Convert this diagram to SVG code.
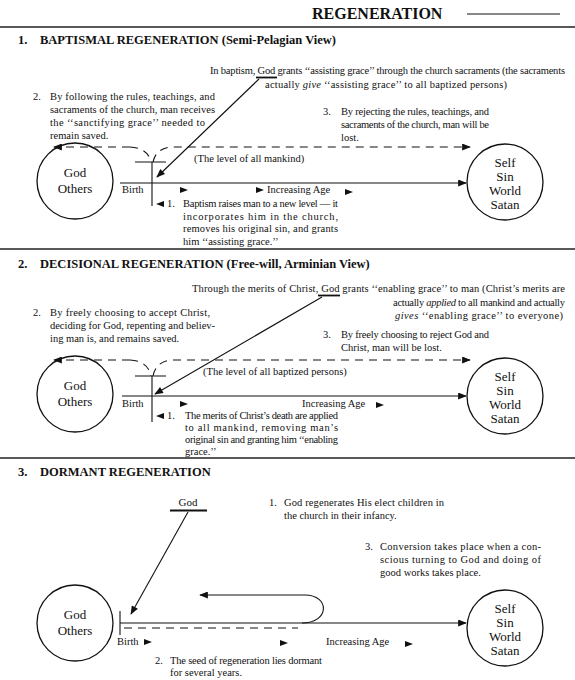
<svg xmlns="http://www.w3.org/2000/svg" width="575" height="680" viewBox="0 0 575 680">
<style>
text{font-family:"Liberation Serif","Times New Roman",serif;fill:#111;}
.b{font-size:10.5px;}
.t{font-size:12.5px;font-weight:bold;}
.h{font-size:16px;font-weight:bold;}
.c{font-size:13px;}
.ln{stroke:#111;stroke-width:1.1;fill:none;}
.ds{stroke:#111;stroke-width:1.1;fill:none;stroke-dasharray:8,6;}
.rule{stroke:#222;stroke-width:1.6;}
.bar{stroke:#111;stroke-width:1.8;}
.circ{fill:#fff;stroke:#111;stroke-width:1.3;}
.tri{fill:#111;}
</style>
<defs>
<marker id="ah" viewBox="0 0 10 8" refX="9" refY="4" markerWidth="10" markerHeight="7" markerUnits="userSpaceOnUse" orient="auto"><path d="M0,0 L10,4 L0,8 Z" fill="#111"/></marker>
<path id="tr" class="tri" d="M0,-3 L8,0 L0,3 Z"/>
<path id="tl" class="tri" d="M8,-3 L0,0 L8,3 Z"/>
</defs>
<rect width="575" height="680" fill="#fff"/>

<g id="header">
<text class="h" x="312" y="19">REGENERATION</text>
<line class="ln" x1="467" y1="14" x2="560" y2="14"/>
<line class="rule" x1="0" y1="27" x2="575" y2="27"/>
<line class="rule" x1="0" y1="249" x2="575" y2="249"/>
<line class="rule" x1="0" y1="458" x2="575" y2="458"/>
</g>

<!-- SECTION 1 -->
<g id="s1-title"><text class="t" x="18" y="44">1.</text><text class="t" x="40" y="44">BAPTISMAL REGENERATION (Semi-Pelagian View)</text></g>
<g id="s1-god">
<text class="b" x="210" y="74" textLength="355">In baptism, God grants ‘‘assisting grace’’ through the church sacraments (the sacraments</text>
<text class="b" x="265" y="88" textLength="242">actually <tspan font-style="italic">give</tspan> ‘‘assisting grace’’ to all baptized persons)</text>
<line class="bar" x1="256" y1="77.5" x2="277" y2="77.5"/>
</g>
<g id="s1-note2">
<text class="b" x="33" y="100">2.</text>
<text class="b" x="50" y="100" textLength="165">By following the rules, teachings, and</text>
<text class="b" x="50" y="113" textLength="165">sacraments of the church, man receives</text>
<text class="b" x="50" y="126" textLength="155">the ‘‘sanctifying grace’’ needed to</text>
<text class="b" x="50" y="139">remain saved.</text>
</g>
<g id="s1-note3">
<text class="b" x="323" y="115">3.</text>
<text class="b" x="341" y="115" textLength="148">By rejecting the rules, teachings, and</text>
<text class="b" x="341" y="128" textLength="148">sacraments of the church, man will be</text>
<text class="b" x="341" y="141">lost.</text>
</g>
<g id="s1-level"><text class="b" x="194" y="162">(The level of all mankind)</text></g>
<g id="s1-godothers"><circle class="circ" cx="75" cy="181" r="38"/><text class="c" x="75" y="177" text-anchor="middle">God</text><text class="c" x="75" y="193" text-anchor="middle">Others</text></g>
<g id="s1-self"><circle class="circ" cx="505" cy="182" r="38"/><text class="c" x="505" y="167" text-anchor="middle">Self</text><text class="c" x="505" y="181" text-anchor="middle">Sin</text><text class="c" x="505" y="195" text-anchor="middle">World</text><text class="c" x="505" y="209" text-anchor="middle">Satan</text></g>
<g id="s1-age">
<text class="b" x="122" y="193">Birth</text>
<use href="#tr" x="180" y="190"/><use href="#tr" x="256" y="190"/>
<text class="b" x="267" y="193">Increasing Age</text>
<use href="#tr" x="345" y="192"/>
</g>
<g id="s1-note1">
<use href="#tl" x="156" y="204"/>
<text class="b" x="167" y="207">1.</text>
<text class="b" x="183" y="207" textLength="155">Baptism raises man to a new level — it</text>
<text class="b" x="183" y="219.5" textLength="155">incorporates him in the church,</text>
<text class="b" x="183" y="232" textLength="155">removes his original sin, and grants</text>
<text class="b" x="183" y="244.5">him ‘‘assisting grace.’’</text>
</g>
<g id="s1-connectors">
<path class="ds" d="M130 147 H54" marker-end="url(#ah)"/>
<path class="ds" d="M130 147 Q148 148 151 162"/>
<path class="ds" d="M153 162 Q156 148 172 147 H470" marker-end="url(#ah)"/>
<path class="ln" d="M135 162 H166 M152 162 V206"/>
<path class="ln" d="M120 183 H466" marker-end="url(#ah)"/>
<path class="ln" d="M259 79 L157 177" marker-end="url(#ah)"/>
</g>

<!-- SECTION 2 -->
<g id="s2-title"><text class="t" x="18" y="268">2.</text><text class="t" x="40" y="268">DECISIONAL REGENERATION (Free-will, Arminian View)</text></g>
<g id="s2-god">
<text class="b" x="192" y="292" textLength="373">Through the merits of Christ, God grants ‘‘enabling grace’’ to man (Christ’s merits are</text>
<text class="b" x="393" y="305.5" textLength="172">actually <tspan font-style="italic">applied</tspan> to all mankind and actually</text>
<text class="b" x="395" y="319" textLength="168"><tspan font-style="italic">gives</tspan> ‘‘enabling grace’’ to everyone)</text>
<line class="bar" x1="318" y1="295.5" x2="340" y2="295.5"/>
</g>
<g id="s2-note2">
<text class="b" x="33" y="316">2.</text>
<text class="b" x="50" y="316" textLength="160">By freely choosing to accept Christ,</text>
<text class="b" x="50" y="329" textLength="165">deciding for God, repenting and believ-</text>
<text class="b" x="50" y="342">ing man is, and remains saved.</text>
</g>
<g id="s2-note3">
<text class="b" x="323" y="338">3.</text>
<text class="b" x="341" y="338" textLength="148">By freely choosing to reject God and</text>
<text class="b" x="341" y="351">Christ, man will be lost.</text>
</g>
<g id="s2-level"><text class="b" x="203" y="375">(The level of all baptized persons)</text></g>
<g id="s2-godothers"><circle class="circ" cx="75" cy="394" r="38"/><text class="c" x="75" y="390" text-anchor="middle">God</text><text class="c" x="75" y="406" text-anchor="middle">Others</text></g>
<g id="s2-self"><circle class="circ" cx="505" cy="396" r="38"/><text class="c" x="505" y="381" text-anchor="middle">Self</text><text class="c" x="505" y="395" text-anchor="middle">Sin</text><text class="c" x="505" y="409" text-anchor="middle">World</text><text class="c" x="505" y="423" text-anchor="middle">Satan</text></g>
<g id="s2-age">
<text class="b" x="122" y="407">Birth</text>
<use href="#tr" x="180" y="404"/>
<text class="b" x="302" y="407">Increasing Age</text>
<use href="#tr" x="376" y="405"/>
</g>
<g id="s2-note1">
<use href="#tl" x="156" y="416"/>
<text class="b" x="167" y="419">1.</text>
<text class="b" x="185" y="419" textLength="153">The merits of Christ’s death are applied</text>
<text class="b" x="185" y="431" textLength="153">to all mankind, removing man’s</text>
<text class="b" x="185" y="443" textLength="153">original sin and granting him ‘‘enabling</text>
<text class="b" x="185" y="455">grace.’’</text>
</g>
<g id="s2-connectors">
<path class="ds" d="M130 360 H54" marker-end="url(#ah)"/>
<path class="ds" d="M130 360 Q148 361 151 376"/>
<path class="ds" d="M153 376 Q156 361 172 360 H470" marker-end="url(#ah)"/>
<path class="ln" d="M135 376 H166 M152 376 V422"/>
<path class="ln" d="M122 396 H466" marker-end="url(#ah)"/>
<path class="ln" d="M322 297 L155 394" marker-end="url(#ah)"/>
</g>

<!-- SECTION 3 -->
<g id="s3-title"><text class="t" x="18" y="476">3.</text><text class="t" x="40" y="476">DORMANT REGENERATION</text></g>
<g id="s3-god">
<text class="b" x="188" y="506" text-anchor="middle" style="font-size:11px">God</text>
<line class="bar" x1="170" y1="510.5" x2="207" y2="510.5"/>
</g>
<g id="s3-note1">
<text class="b" x="269" y="506">1.</text>
<text class="b" x="284" y="506" textLength="160">God regenerates His elect children in</text>
<text class="b" x="284" y="519">the church in their infancy.</text>
</g>
<g id="s3-note3">
<text class="b" x="365" y="550">3.</text>
<text class="b" x="380" y="550" textLength="161">Conversion takes place when a con-</text>
<text class="b" x="380" y="563" textLength="161">scious turning to God and doing of</text>
<text class="b" x="380" y="576">good works takes place.</text>
</g>
<g id="s3-godothers"><circle class="circ" cx="75" cy="623" r="38"/><text class="c" x="75" y="619" text-anchor="middle">God</text><text class="c" x="75" y="635" text-anchor="middle">Others</text></g>
<g id="s3-self"><circle class="circ" cx="505" cy="628" r="38"/><text class="c" x="505" y="613" text-anchor="middle">Self</text><text class="c" x="505" y="627" text-anchor="middle">Sin</text><text class="c" x="505" y="641" text-anchor="middle">World</text><text class="c" x="505" y="655" text-anchor="middle">Satan</text></g>
<g id="s3-age">
<text class="b" x="117" y="645">Birth</text>
<use href="#tr" x="144" y="642"/><use href="#tr" x="280" y="643"/>
<text class="b" x="326" y="645">Increasing Age</text>
<use href="#tr" x="405" y="644"/>
</g>
<g id="s3-note2">
<text class="b" x="155" y="664">2.</text>
<text class="b" x="170" y="664" textLength="152">The seed of regeneration lies dormant</text>
<text class="b" x="170" y="676">for several years.</text>
</g>
<g id="s3-connectors">
<path class="ln" d="M120 611 V635"/>
<path class="ln" d="M120 623 H466" marker-end="url(#ah)"/>
<path class="ds" d="M124 628 H298"/>
<path class="ln" d="M302 623 C330 623 330 595 305 595 H200" marker-end="url(#ah)"/>
<path class="ln" d="M188 512 L131 614" marker-end="url(#ah)"/>
</g>
</svg>
